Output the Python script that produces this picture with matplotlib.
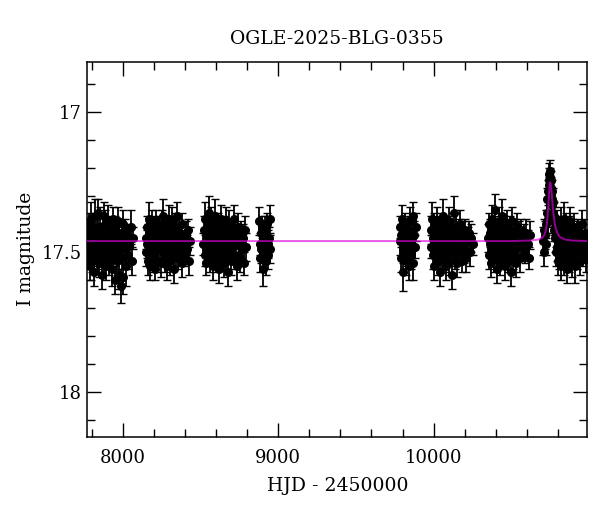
import numpy as np
import matplotlib
matplotlib.use("Agg")
import matplotlib.pyplot as plt
from matplotlib.ticker import MultipleLocator

plt.rcParams['font.family'] = ['DejaVu Serif']

title = "OGLE-2025-BLG-0355"
xlabel = "HJD - 2450000"
ylabel = "I magnitude"

# (HJD-2450000, I mag, error) per observing season
season1 = [
    (7773, 17.44, .04), (7777, 17.51, .05), (7780, 17.40, .04), (7784, 17.47, .05), (7788, 17.55, .05), (7791, 17.42, .04),
    (7795, 17.49, .05), (7799, 17.38, .06), (7802, 17.53, .04), (7806, 17.46, .05), (7810, 17.41, .04), (7813, 17.50, .05),
    (7817, 17.57, .05), (7821, 17.44, .04), (7824, 17.37, .06), (7828, 17.48, .05), (7833, 17.52, .04), (7836, 17.43, .05),
    (7840, 17.36, .05), (7844, 17.47, .04), (7848, 17.54, .05), (7851, 17.45, .04), (7855, 17.41, .07), (7859, 17.50, .05),
    (7863, 17.46, .04), (7867, 17.58, .05), (7870, 17.42, .05), (7874, 17.48, .04), (7878, 17.37, .05), (7882, 17.52, .06),
    (7885, 17.45, .04), (7889, 17.40, .05), (7893, 17.55, .05), (7897, 17.47, .04), (7901, 17.43, .05), (7904, 17.50, .04),
    (7908, 17.39, .06), (7912, 17.53, .05), (7916, 17.46, .04), (7920, 17.42, .05), (7924, 17.49, .04), (7928, 17.56, .06),
    (7932, 17.44, .05), (7935, 17.38, .04), (7939, 17.51, .05), (7943, 17.47, .07), (7947, 17.60, .05), (7951, 17.41, .04),
    (7955, 17.48, .05), (7959, 17.45, .04), (7963, 17.53, .06), (7967, 17.39, .05), (7971, 17.50, .04), (7975, 17.58, .05),
    (7979, 17.43, .05), (7983, 17.47, .04), (7988, 17.62, .06), (7992, 17.44, .05), (7996, 17.52, .04), (8000, 17.40, .05),
    (8004, 17.59, .06), (8009, 17.46, .05), (8013, 17.42, .04), (8018, 17.55, .07), (8023, 17.49, .05), (8029, 17.44, .04),
    (8035, 17.51, .05), (8042, 17.47, .05), (8050, 17.41, .06), (8058, 17.53, .05), (8063, 17.45, .04),
]

season2 = [
    (8147, 17.45, .04), (8151, 17.50, .05), (8154, 17.41, .04), (8158, 17.47, .05), (8162, 17.53, .05), (8166, 17.43, .04),
    (8170, 17.38, .06), (8173, 17.49, .04), (8177, 17.55, .05), (8181, 17.44, .04), (8185, 17.40, .05), (8189, 17.48, .04),
    (8193, 17.52, .05), (8196, 17.46, .04), (8200, 17.42, .05), (8204, 17.50, .04), (8208, 17.56, .04), (8212, 17.44, .05),
    (8216, 17.39, .04), (8220, 17.47, .05), (8224, 17.53, .04), (8228, 17.45, .05), (8232, 17.41, .04), (8236, 17.49, .06),
    (8240, 17.43, .04), (8244, 17.54, .05), (8248, 17.46, .04), (8252, 17.40, .05), (8256, 17.50, .04), (8260, 17.37, .06),
    (8264, 17.48, .05), (8268, 17.44, .04), (8272, 17.52, .05), (8276, 17.42, .04), (8280, 17.47, .05), (8284, 17.55, .05),
    (8288, 17.41, .04), (8292, 17.49, .05), (8296, 17.38, .05), (8300, 17.46, .04), (8304, 17.53, .05), (8308, 17.43, .04),
    (8312, 17.50, .06), (8316, 17.45, .04), (8320, 17.39, .05), (8324, 17.48, .04), (8328, 17.56, .05), (8332, 17.44, .04),
    (8336, 17.41, .05), (8340, 17.51, .04), (8345, 17.46, .05), (8350, 17.37, .05), (8355, 17.52, .04), (8360, 17.43, .05),
    (8366, 17.49, .04), (8372, 17.45, .05), (8378, 17.54, .05), (8384, 17.40, .04), (8390, 17.47, .05), (8397, 17.51, .04),
    (8404, 17.44, .05), (8411, 17.49, .05), (8418, 17.42, .04), (8425, 17.53, .05), (8432, 17.46, .05),
]

season3 = [
    (8518, 17.47, .04), (8522, 17.42, .05), (8526, 17.51, .04), (8530, 17.38, .06), (8534, 17.48, .05), (8538, 17.54, .04),
    (8542, 17.44, .05), (8546, 17.40, .04), (8550, 17.49, .05), (8554, 17.36, .06), (8558, 17.46, .04), (8562, 17.52, .05),
    (8566, 17.43, .04), (8570, 17.39, .05), (8574, 17.48, .04), (8578, 17.55, .05), (8582, 17.45, .04), (8586, 17.41, .05),
    (8590, 17.50, .04), (8594, 17.37, .06), (8598, 17.47, .05), (8602, 17.53, .04), (8606, 17.44, .05), (8610, 17.40, .04),
    (8614, 17.49, .05), (8618, 17.56, .05), (8622, 17.43, .04), (8626, 17.46, .05), (8630, 17.38, .05), (8634, 17.51, .04),
    (8638, 17.45, .05), (8642, 17.42, .04), (8646, 17.48, .05), (8650, 17.54, .05), (8654, 17.41, .04), (8658, 17.47, .05),
    (8662, 17.39, .05), (8666, 17.52, .04), (8670, 17.44, .05), (8674, 17.49, .04), (8678, 17.57, .05), (8682, 17.43, .04),
    (8686, 17.40, .05), (8690, 17.50, .04), (8694, 17.46, .05), (8698, 17.53, .05), (8703, 17.42, .04), (8708, 17.48, .05),
    (8713, 17.38, .05), (8718, 17.45, .04), (8723, 17.51, .05), (8728, 17.44, .04), (8734, 17.55, .05), (8740, 17.41, .05),
    (8746, 17.47, .04), (8752, 17.52, .05), (8758, 17.43, .04), (8765, 17.49, .05), (8772, 17.45, .05), (8780, 17.54, .04),
    (8788, 17.42, .05), (8796, 17.48, .05),
]

season4 = [
    (8876, 17.39, .05), (8880, 17.47, .04), (8884, 17.52, .05), (8888, 17.43, .04), (8892, 17.49, .05), (8896, 17.41, .04),
    (8900, 17.56, .06), (8904, 17.45, .05), (8908, 17.50, .04), (8912, 17.42, .05), (8916, 17.48, .04), (8920, 17.53, .05),
    (8924, 17.44, .05), (8928, 17.40, .04), (8932, 17.47, .05), (8936, 17.51, .05), (8940, 17.45, .04), (8945, 17.38, .05),
    (8949, 17.49, .05),
]

season5 = [
    (9781, 17.46, .05), (9785, 17.41, .04), (9789, 17.52, .05), (9793, 17.44, .04), (9797, 17.38, .05), (9801, 17.49, .05),
    (9805, 17.57, .07), (9809, 17.43, .04), (9813, 17.47, .05), (9817, 17.40, .04), (9821, 17.53, .05), (9825, 17.45, .04),
    (9829, 17.50, .05), (9833, 17.42, .05), (9837, 17.48, .04), (9841, 17.55, .05), (9845, 17.39, .05), (9849, 17.46, .04),
    (9853, 17.51, .05), (9857, 17.43, .04), (9861, 17.49, .05), (9866, 17.37, .05), (9870, 17.54, .06), (9875, 17.44, .05),
    (9880, 17.48, .04), (9885, 17.41, .05),
]

season6 = [
    (9981, 17.42, .05), (9985, 17.48, .04), (9989, 17.38, .06), (9993, 17.51, .05), (9997, 17.45, .04), (10001, 17.41, .05),
    (10005, 17.55, .05), (10009, 17.47, .04), (10013, 17.43, .05), (10017, 17.50, .04), (10021, 17.39, .05), (10025, 17.53, .05),
    (10029, 17.46, .04), (10033, 17.42, .05), (10037, 17.49, .04), (10041, 17.57, .05), (10045, 17.44, .05), (10049, 17.40, .04),
    (10053, 17.51, .05), (10057, 17.47, .04), (10061, 17.37, .06), (10065, 17.52, .05), (10069, 17.45, .04), (10073, 17.43, .05),
    (10077, 17.49, .04), (10081, 17.55, .05), (10085, 17.41, .04), (10089, 17.48, .05), (10093, 17.44, .04), (10097, 17.53, .05),
    (10101, 17.39, .05), (10105, 17.47, .04), (10109, 17.50, .05), (10113, 17.42, .04), (10117, 17.46, .05), (10121, 17.58, .05),
    (10125, 17.43, .04), (10129, 17.49, .05), (10133, 17.36, .06), (10137, 17.51, .05), (10141, 17.45, .04), (10146, 17.41, .05),
    (10151, 17.54, .05), (10156, 17.47, .04), (10161, 17.43, .05), (10166, 17.50, .04), (10172, 17.40, .05), (10178, 17.48, .05),
    (10184, 17.53, .04), (10190, 17.44, .05), (10197, 17.49, .05), (10204, 17.42, .04), (10211, 17.52, .05), (10219, 17.46, .05),
    (10227, 17.43, .04), (10235, 17.50, .05), (10243, 17.45, .05), (10251, 17.47, .04),
]

season7 = [
    (10349, 17.45, .05), (10353, 17.40, .04), (10357, 17.51, .05), (10361, 17.47, .04), (10365, 17.43, .05), (10369, 17.54, .05),
    (10373, 17.38, .05), (10377, 17.49, .04), (10381, 17.45, .05), (10385, 17.41, .04), (10389, 17.52, .05), (10393, 17.35, .06),
    (10397, 17.47, .05), (10401, 17.43, .04), (10405, 17.50, .05), (10409, 17.56, .05), (10413, 17.44, .04), (10417, 17.39, .05),
    (10421, 17.48, .04), (10425, 17.53, .05), (10429, 17.42, .04), (10433, 17.46, .05), (10437, 17.37, .06), (10441, 17.51, .05),
    (10445, 17.44, .04), (10449, 17.49, .05), (10453, 17.41, .04), (10457, 17.55, .05), (10461, 17.46, .04), (10465, 17.43, .05),
    (10469, 17.50, .04), (10473, 17.40, .05), (10477, 17.47, .05), (10481, 17.53, .04), (10485, 17.44, .05), (10489, 17.48, .04),
    (10493, 17.42, .05), (10497, 17.57, .05), (10501, 17.45, .04), (10505, 17.39, .05), (10510, 17.51, .05), (10515, 17.46, .04),
    (10520, 17.43, .05), (10525, 17.49, .04), (10531, 17.54, .05), (10537, 17.41, .05), (10543, 17.47, .04), (10549, 17.44, .05),
    (10556, 17.52, .05), (10563, 17.42, .04), (10570, 17.48, .05), (10578, 17.45, .05), (10586, 17.50, .04), (10595, 17.43, .05),
    (10604, 17.47, .05), (10613, 17.52, .04), (10621, 17.44, .05),
]

season8 = [
    (10702, 17.46, .05), (10707, 17.42, .04), (10712, 17.50, .05), (10716, 17.44, .05), (10720, 17.47, .04), (10724, 17.40, .05),
    (10727, 17.36, .05), (10730, 17.31, .04), (10733, 17.38, .05), (10736, 17.28, .04), (10739, 17.24, .04), (10742, 17.22, .04),
    (10744, 17.26, .03), (10746, 17.21, .04), (10748, 17.23, .03), (10750, 17.25, .04), (10752, 17.27, .04), (10754, 17.24, .03),
    (10756, 17.29, .04), (10758, 17.31, .04), (10760, 17.28, .04), (10762, 17.33, .05), (10765, 17.36, .04), (10768, 17.32, .05),
    (10771, 17.39, .05), (10774, 17.42, .04), (10777, 17.37, .05), (10780, 17.45, .05), (10783, 17.41, .04), (10786, 17.50, .05),
    (10789, 17.44, .04), (10792, 17.48, .05), (10795, 17.40, .05), (10798, 17.53, .05), (10801, 17.46, .04), (10804, 17.42, .05),
    (10808, 17.51, .05), (10812, 17.45, .04), (10816, 17.39, .05), (10820, 17.55, .05), (10824, 17.47, .04), (10828, 17.43, .05),
    (10832, 17.50, .04), (10836, 17.38, .06), (10840, 17.53, .05), (10844, 17.46, .04), (10848, 17.41, .05), (10852, 17.49, .04),
    (10856, 17.56, .05), (10860, 17.44, .05), (10864, 17.48, .04), (10868, 17.42, .05), (10872, 17.52, .05), (10876, 17.45, .04),
    (10880, 17.39, .05), (10884, 17.50, .05), (10888, 17.47, .04), (10892, 17.54, .05), (10896, 17.43, .05), (10900, 17.49, .04),
    (10905, 17.41, .05), (10910, 17.55, .06), (10915, 17.46, .04), (10920, 17.44, .05), (10925, 17.51, .05), (10930, 17.42, .04),
    (10935, 17.48, .05), (10941, 17.53, .05), (10947, 17.45, .04), (10953, 17.40, .05), (10959, 17.50, .05), (10965, 17.47, .04),
    (10971, 17.43, .05), (10977, 17.52, .05), (10983, 17.46, .04), (10988, 17.49, .05),
]

# model light curve
model_t = [7770, 10500, 10620, 10670, 10695, 10710, 10720, 10728, 10734, 10739, 10743, 10746, 10748, 10750,
           10752, 10755, 10759, 10764, 10770, 10777, 10785, 10795, 10808, 10825, 10850, 10890, 10990]
model_mag = [17.46, 17.46, 17.458, 17.455, 17.45, 17.44, 17.425, 17.40, 17.36, 17.32, 17.285, 17.26, 17.252, 17.25,
             17.253, 17.265, 17.29, 17.325, 17.36, 17.39, 17.415, 17.43, 17.443, 17.45, 17.455, 17.458, 17.46]

seasons = [season1, season2, season3, season4, season5, season6, season7, season8]
data = np.array([p for s in seasons for p in s])
t, mag, err = data[:, 0], data[:, 1], data[:, 2]

fig = plt.figure(figsize=(6, 5.12), dpi=100)
ax = fig.add_axes([0.1455, 0.1471, 0.8333, 0.7324])

ax.errorbar(t, mag, yerr=err, fmt='o', color='k', ecolor='k', ms=5.5,
            elinewidth=1.3, capsize=2.6, capthick=1.0, zorder=2)
ax.plot(model_t, model_mag, color='#e000e0', lw=1.4, alpha=0.65, zorder=3)

ax.set_xlim(7772, 10988)
ax.set_ylim(18.159, 16.819)
ax.xaxis.set_major_locator(MultipleLocator(1000))
ax.xaxis.set_minor_locator(MultipleLocator(200))
ax.yaxis.set_major_locator(MultipleLocator(0.5))
ax.yaxis.set_minor_locator(MultipleLocator(0.1))
ax.yaxis.set_major_formatter(plt.FuncFormatter(lambda v, p: f"{v:g}"))
ax.tick_params(which='both', direction='in', top=True, right=True, width=1)
ax.tick_params(which='major', length=10, labelsize=13, pad=9)
ax.tick_params(which='minor', length=6)
ax.tick_params(axis='y', which='major', pad=4)
for s in ax.spines.values():
    s.set_linewidth(1.1)

ax.set_title(title, fontsize=13.5, pad=13)
ax.set_xlabel(xlabel, fontsize=13.5, labelpad=7)
ax.set_ylabel(ylabel, fontsize=13.5, labelpad=5)

fig.savefig("out.png", dpi=100)
